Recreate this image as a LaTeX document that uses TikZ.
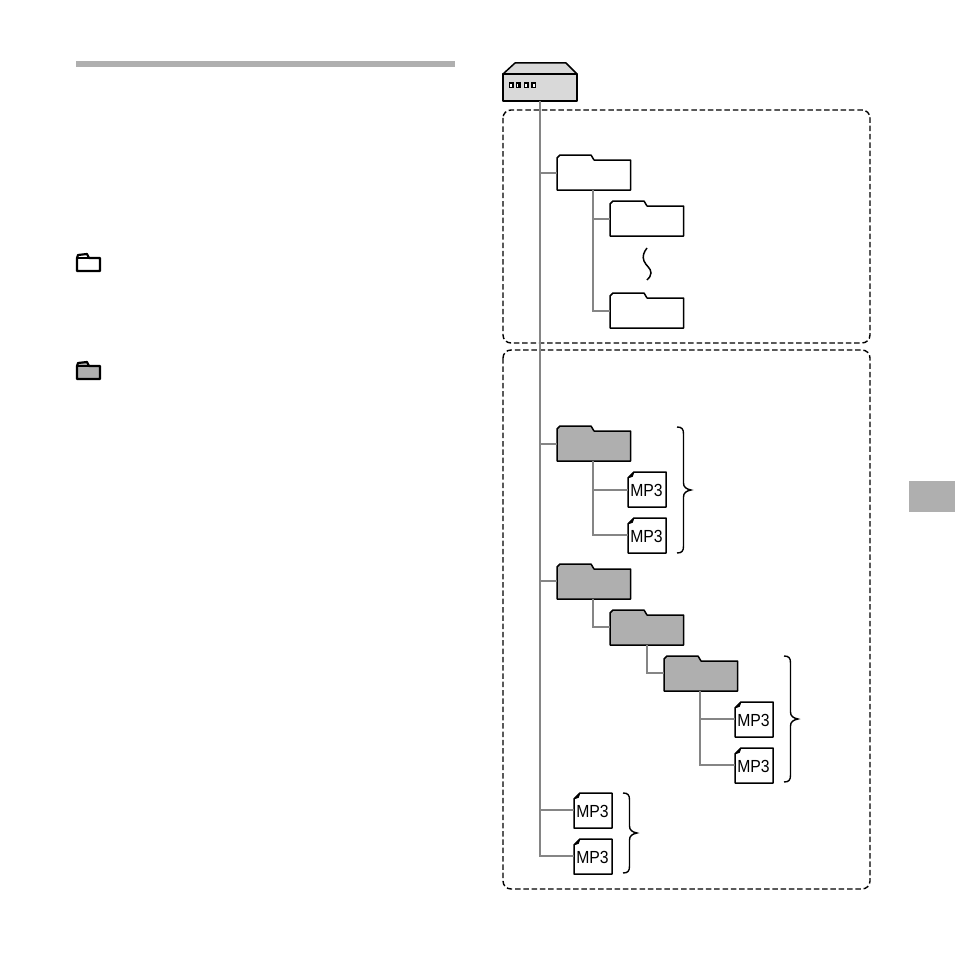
\documentclass[tikz,border=0pt]{standalone}
\usepackage{fontspec}
\setmainfont{Liberation Sans}
\definecolor{conn}{HTML}{858585}
\definecolor{dark}{HTML}{AFAFAF}
\definecolor{devfill}{HTML}{D9D9D9}
\tikzset{
  outline/.style={draw=black,line width=1.5pt,line join=round},
  anchorbox/.style={inner sep=0pt,outer sep=0pt,minimum width=#1,anchor=north west},
  thinlink/.style={draw=conn,line width=2pt},
  thicklink/.style={draw=conn,line width=2.7pt},
  dashbox/.style={draw=black,line width=1.4pt,dash pattern=on 5.5pt off 2.8pt,rounded corners=8pt},
  bracepath/.style={draw=black,line width=1.4pt},
  mp3label/.style={font=\fontsize{17.5}{17.5}\selectfont,inner sep=0pt,xscale=.9},
  iconline/.style={draw=black,line width=2.2pt,line join=round},
}
% name, left, top, fill
\newcommand{\fldr}[4]{%
  \draw[outline,fill=#4] (#2,#3+35) -- (#2,#3+3) -- (#2+3,#3) -- (#2+34,#3) -- (#2+37,#3+5) -- (#2+73.5,#3+5) -- (#2+73.5,#3+35) -- cycle;
  \node[anchorbox=73.5pt,minimum height=35pt] (#1) at (#2,#3) {};
}
% name, left, top
\newcommand{\mpfile}[3]{%
  \draw[outline,fill=white] (#2,#3+35) -- (#2,#3+6) -- (#2+6,#3) -- (#2+38,#3) -- (#2+38,#3+35) -- cycle;
  \draw[black,fill=black,line width=0.5pt,line join=round] (#2,#3+6) -- (#2+4.5,#3+4.5) -- (#2+6,#3) -- cycle;
  \node[anchorbox=38pt,minimum height=35pt] (#1) at (#2,#3) {};
  \node[mp3label] (#1t) at (#2+18.5,#3+18.3) {MP3};
}
% top, bottom, x-left, x-tip
\newcommand{\cbrace}[4]{%
  \pgfmathsetmacro{\ym}{(#1+#2)/2}
  \draw[bracepath] (#3,#1) .. controls (#3+5,#1) and (#3+6.5,#1+2) .. (#3+6.5,#1+7)
    -- (#3+6.5,\ym-7) .. controls (#3+6.5,\ym-3) and (#3+9,\ym-1) .. (#4,\ym)
    .. controls (#3+9,\ym+1) and (#3+6.5,\ym+3) .. (#3+6.5,\ym+7)
    -- (#3+6.5,#2-7) .. controls (#3+6.5,#2-2) and (#3+5,#2) .. (#3,#2);
}
\begin{document}
\begin{tikzpicture}[x=1pt,y=-1pt]
\useasboundingbox (0,0) rectangle (955,955);
% page furniture
\fill[dark] (76,61) rectangle (455,67);
\fill[dark] (909,481) rectangle (955,512);
% legend folder icons
\draw[iconline,fill=white] (77,271) -- (77,258) -- (78,255) -- (87,254) -- (89,258) -- (100,258) -- (100,271) -- cycle;
\draw[black,line width=2pt] (77,258) -- (89,258);
\draw[iconline,fill=dark] (77,379) -- (77,366) -- (78,363) -- (87,362) -- (89,366) -- (100,366) -- (100,379) -- cycle;
\draw[black,line width=2pt] (77,366) -- (89,366);
% dashed boxes
\draw[dashbox] (503,110) rectangle (870,343);
\draw[dashbox] (503,350) rectangle (870,889);
% device
\draw[outline,fill=devfill] (503,74) -- (515,63) -- (566,63) -- (577,74) -- cycle;
\draw[outline,fill=devfill] (503,74) rectangle (577,101);
\node[inner sep=0pt,outer sep=0pt,minimum width=74pt,minimum height=27pt,anchor=north west] (dev) at (503,74) {};
\foreach \sx in {509.5,516.5,524.5,532}{\draw[black,line width=1.3pt,fill=white] (\sx,83) rectangle +(3.6,4.6);}
\fill[black] (517.5,83) rectangle (519.8,87.6);
% nodes
\fldr{fa}{557}{155}{white}
\fldr{fb}{610}{201}{white}
\fldr{fc}{610}{293}{white}
\fldr{ga}{557}{426}{dark}
\fldr{gb}{557}{564}{dark}
\fldr{gc}{610}{610}{dark}
\fldr{gd}{664}{656}{dark}
\mpfile{ma}{628}{472}
\mpfile{mb}{628}{518}
\mpfile{mc}{735}{702}
\mpfile{md}{735}{748}
\mpfile{me}{574}{793}
\mpfile{mf}{574}{839}
\coordinate (tr) at (540,856);
% connectors
\draw[thinlink] (dev.south -| tr) -- (tr) -- (mf.west |- tr);
\draw[thinlink] (fa.west |- 0,173) -- (540,173);
\draw[thinlink] (ga.west |- 0,444) -- (540,444);
\draw[thicklink] (gb.west |- 0,581) -- (540,581);
\draw[thicklink] (me.west |- 0,810) -- (540,810);
\draw[thinlink] (593,190) -- (593,311) -- (fc.west |- 0,311);
\draw[thicklink] (593,219) -- (fb.west |- 0,219);
\draw[thinlink] (593,461) -- (593,490) -- (ma.west |- 0,490);
\draw[thinlink] (593,490) -- (593,535);
\draw[thicklink] (592,535) -- (mb.west |- 0,535);
\draw[thinlink] (593,599) -- (593,627) -- (gc.west |- 0,627);
\draw[thinlink] (647,645) -- (647,673) -- (gd.west |- 0,673);
\draw[thinlink] (700,691) -- (700,765) -- (md.west |- 0,765);
\draw[thinlink] (700,719) -- (mc.west |- 0,719);
% wave
\draw[black,line width=1.5pt] (647,248) .. controls (644,252) and (642,256) .. (644,261) .. controls (646,266) and (651,268) .. (651,273) .. controls (651,276) and (649,278) .. (647,280);
% braces
\cbrace{427}{553}{677}{691}
\cbrace{656}{782}{784}{798}
\cbrace{793}{873}{623}{637}
\end{tikzpicture}
\end{document}
